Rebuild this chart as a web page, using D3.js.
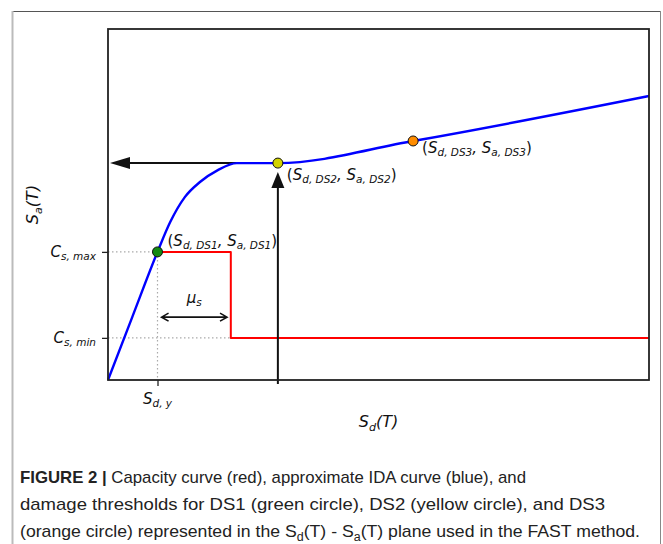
<!DOCTYPE html>
<html>
<head>
<meta charset="utf-8">
<script src="https://cdn.jsdelivr.net/npm/d3@7"></script>
<style>
  html, body { margin: 0; padding: 0; background: #fff; }
  svg { display: block; }
  .math { font-family: 'DejaVu Sans', sans-serif; font-style: italic; fill: #111; }
  .caption { font-family: 'Liberation Sans', Arial, sans-serif; fill: #222; }
</style>
</head>
<body>
<div id="chart"></div>
<script>
(function () {
  'use strict';

  // ── Data (arbitrary Sd / Sa units 0–100) ──────────────────────────────────────
  // approximate IDA curve (blue)
  const idaSd = [0, 4.5, 9.15, 11.5, 14.2, 17.0, 20.3, 23.8, 31.4, 56.4, 100];
  const idaSa = [0, 18.0, 36.5, 45.0, 52.1, 56.4, 59.8, 61.8, 61.8, 68.1, 80.9];

  // capacity curve (red)
  const capSd = [9.15, 22.7, 22.7, 100];
  const capSa = [36.5, 36.5, 12.0, 12.0];

  // damage state thresholds
  const dsNames  = ['DS1', 'DS2', 'DS3'];
  const dsSd     = [9.15, 31.4, 56.4];
  const dsSa     = [36.5, 61.8, 68.1];
  const dsColors = ['#138a13', '#d2d200', '#ff8c00'];

  // axis ticks
  const yTickVals  = [36.5, 12.0];
  const yTickSubs  = ['s, max', 's, min'];
  const xTickVals  = [9.15];
  const xTickSubs  = ['d, y'];

  // reading arrows and ductility span
  const arrowSd  = 31.4;   // Sd,DS2 – vertical arrow
  const arrowSa  = 61.8;   // Sa,DS2 – horizontal arrow
  const arrowSd0 = 23.8;   // where horizontal arrow leaves the curve
  const muSpan   = [9.9, 22.0];
  const muSa     = 17.9;

  const captionLines = [
    [{ t: 'FIGURE 2 | ', b: true }, { t: 'Capacity curve (red), approximate IDA curve (blue), and' }],
    [{ t: 'damage thresholds for DS1 (green circle), DS2 (yellow circle), and DS3' }],
    [{ t: '(orange circle) represented in the S' }, { t: 'd', sub: true }, { t: '(T) - S' }, { t: 'a', sub: true },
     { t: '(T) plane used in the FAST method.' }]
  ];
  const captionWidths = [506, 585, 620];

  // ── Layout ────────────────────────────────────────────────────────────────────
  const W = 663, H = 544;
  const plot = { left: 108, top: 29, right: 649, bottom: 380 };

  const svg = d3.select('#chart').append('svg')
    .attr('width', W).attr('height', H)
    .attr('viewBox', `0 0 ${W} ${H}`);

  // outer figure frame
  svg.append('line').attr('x1', 12).attr('x2', 660).attr('y1', 11.5).attr('y2', 11.5)
    .attr('stroke', '#555').attr('stroke-width', 1);
  svg.append('line').attr('x1', 12.5).attr('x2', 12.5).attr('y1', 11).attr('y2', H)
    .attr('stroke', '#bbb').attr('stroke-width', 2);
  svg.append('line').attr('x1', 660.5).attr('x2', 660.5).attr('y1', 11).attr('y2', H)
    .attr('stroke', '#888').attr('stroke-width', 1);

  const x = d3.scaleLinear().domain([0, 100]).range([plot.left, plot.right]);
  const y = d3.scaleLinear().domain([0, 100]).range([plot.bottom, plot.top]);

  const g = svg.append('g');

  // helper: italic math label with a subscript, e.g. C_{s,max}
  function mathLabel(sel, main, sub, size, tail) {
    sel.append('tspan').text(main);
    sel.append('tspan').attr('font-size', size * 0.7).attr('dy', size * 0.22).text(sub);
    if (tail) sel.append('tspan').attr('dy', -size * 0.22).text(tail);
    return sel;
  }

  // ── Guide lines (dotted grey) ───────────────────────────────────────────────
  const dotted = { stroke: '#aaa', 'stroke-width': 1.2, 'stroke-dasharray': '1.5,2.5' };
  function guide(x1, y1, x2, y2) {
    const l = g.append('line').attr('x1', x1).attr('y1', y1).attr('x2', x2).attr('y2', y2);
    Object.entries(dotted).forEach(([k, v]) => l.attr(k, v));
  }
  guide(x(0), y(yTickVals[0]), x(dsSd[0]), y(yTickVals[0]));
  guide(x(0), y(yTickVals[1]), x(capSd[2]), y(yTickVals[1]));
  guide(x(xTickVals[0]), y(dsSa[0]), x(xTickVals[0]), y(0));

  // ── Axes: only the labelled ticks, frame drawn separately ─────────────────────
  const yAxis = g.append('g').attr('transform', `translate(${plot.left},0)`)
    .call(d3.axisLeft(y).tickValues(yTickVals).tickSize(6).tickFormat(''));
  const xAxis = g.append('g').attr('transform', `translate(0,${plot.bottom})`)
    .call(d3.axisBottom(x).tickValues(xTickVals).tickSize(6).tickFormat(''));
  [yAxis, xAxis].forEach(a => {
    a.select('.domain').remove();
    a.selectAll('line').attr('stroke', '#222').attr('stroke-width', 1.3);
  });

  yTickVals.forEach((v, i) => {
    const t = g.append('text').attr('class', 'math')
      .attr('x', plot.left - 12).attr('y', y(v) + 5)
      .attr('text-anchor', 'end').attr('font-size', 15);
    mathLabel(t, 'C', yTickSubs[i], 15);
  });
  xTickVals.forEach((v, i) => {
    const t = g.append('text').attr('class', 'math')
      .attr('x', x(v)).attr('y', plot.bottom + 24)
      .attr('text-anchor', 'middle').attr('font-size', 15);
    mathLabel(t, 'S', xTickSubs[i], 15);
  });

  // axis titles
  const xt = g.append('text').attr('class', 'math')
    .attr('x', (plot.left + plot.right) / 2).attr('y', 427)
    .attr('text-anchor', 'middle').attr('font-size', 16);
  mathLabel(xt, 'S', 'd', 16, '(T)');
  const yt = g.append('text').attr('class', 'math')
    .attr('transform', `translate(38,${(plot.top + plot.bottom) / 2}) rotate(-90)`)
    .attr('text-anchor', 'middle').attr('font-size', 16);
  mathLabel(yt, 'S', 'a', 16, '(T)');

  // ── Curves ───────────────────────────────────────────────────────────────────
  const capLine = d3.line().x(d => x(d[0])).y(d => y(d[1])).curve(d3.curveLinear);
  g.append('path')
    .datum(capSd.map((v, i) => [v, capSa[i]]))
    .attr('d', capLine)
    .attr('fill', 'none').attr('stroke', '#ff0000').attr('stroke-width', 2)
    .attr('stroke-linejoin', 'round');

  // ── Arrows (black) ────────────────────────────────────────────────────────────
  // horizontal: from the curve back to the Sa axis
  const hx0 = x(arrowSd0), hy = y(arrowSa), hTip = x(0) + 2;
  g.append('line').attr('x1', hx0).attr('x2', hTip + 16).attr('y1', hy).attr('y2', hy)
    .attr('stroke', '#111').attr('stroke-width', 2);
  g.append('path')
    .attr('d', `M${hTip},${hy} L${hTip + 20},${hy - 6} L${hTip + 20},${hy + 6} Z`)
    .attr('fill', '#111');

  // vertical: from Sd axis up to DS2
  const vx = x(arrowSd), vTip = y(arrowSa) + 9;
  g.append('line').attr('x1', vx).attr('x2', vx).attr('y1', y(0) + 4).attr('y2', vTip + 12)
    .attr('stroke', '#111').attr('stroke-width', 2);
  g.append('path')
    .attr('d', `M${vx},${vTip} L${vx - 6.5},${vTip + 16} L${vx + 6.5},${vTip + 16} Z`)
    .attr('fill', '#111');

  // ductility double arrow (open heads)
  const mx0 = x(muSpan[0]), mx1 = x(muSpan[1]), my = y(muSa);
  g.append('path')
    .attr('d', `M${mx0},${my} L${mx1},${my}` +
               `M${mx0 + 7},${my - 4} L${mx0},${my} L${mx0 + 7},${my + 4}` +
               `M${mx1 - 7},${my - 4} L${mx1},${my} L${mx1 - 7},${my + 4}`)
    .attr('fill', 'none').attr('stroke', '#111').attr('stroke-width', 1.6)
    .attr('stroke-linejoin', 'miter');
  const mu = g.append('text').attr('class', 'math')
    .attr('x', (mx0 + mx1) / 2).attr('y', my - 14)
    .attr('text-anchor', 'middle').attr('font-size', 15);
  mathLabel(mu, 'μ', 's', 15);

  // IDA curve on top of the arrows
  const idaLine = d3.line().x(d => x(d[0])).y(d => y(d[1])).curve(d3.curveMonotoneX);
  g.append('path')
    .datum(idaSd.map((v, i) => [v, idaSa[i]]))
    .attr('d', idaLine)
    .attr('fill', 'none').attr('stroke', '#0000ff').attr('stroke-width', 2.4);

  // ── Damage state markers + labels ───────────────────────────────────────────
  const labelOffsets = [[10, -6], [9, 17], [9, 12]];
  dsNames.forEach((name, i) => {
    const cx = x(dsSd[i]), cy = y(dsSa[i]);
    g.append('circle').attr('cx', cx).attr('cy', cy).attr('r', 5)
      .attr('fill', dsColors[i]).attr('stroke', '#111').attr('stroke-width', 1);
    const t = g.append('text').attr('class', 'math')
      .attr('x', cx + labelOffsets[i][0]).attr('y', cy + labelOffsets[i][1])
      .attr('font-size', 15);
    t.append('tspan').attr('font-style', 'normal').text('(');
    mathLabel(t, 'S', 'd, ' + name, 15, ', S');
    t.append('tspan').attr('font-size', 15 * 0.7).attr('dy', 15 * 0.22).text('a, ' + name);
    t.append('tspan').attr('dy', -15 * 0.22).attr('font-style', 'normal').text(')');
  });

  // plot frame
  g.append('rect')
    .attr('x', plot.left).attr('y', plot.top)
    .attr('width', plot.right - plot.left).attr('height', plot.bottom - plot.top)
    .attr('fill', 'none').attr('stroke', '#222').attr('stroke-width', 1.8);

  // ── Caption ──────────────────────────────────────────────────────────────────
  const capY = [483, 510, 537];
  captionLines.forEach((parts, li) => {
    const t = svg.append('text').attr('class', 'caption')
      .attr('x', 20).attr('y', capY[li]).attr('font-size', 17)
      .attr('textLength', captionWidths[li]).attr('lengthAdjust', 'spacingAndGlyphs');
    let shifted = false;
    parts.forEach(p => {
      const s = t.append('tspan').text(p.t);
      if (p.b) s.attr('font-weight', 'bold');
      if (p.sub) { s.attr('font-size', 12).attr('dy', 4); shifted = true; }
      else if (shifted) { s.attr('dy', -4); shifted = false; }
    });
  });
})();
</script>
</body>
</html>
